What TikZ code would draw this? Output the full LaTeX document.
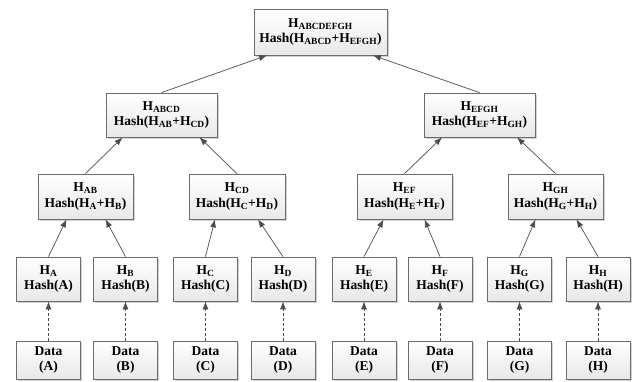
\documentclass[tikz,border=0pt]{standalone}
\usepackage{fontspec}
\setmainfont{Liberation Serif}
\usetikzlibrary{arrows.meta,shadows}
\newcommand{\hsub}[1]{\textsubscript{#1}}
\tikzset{
  hbox/.style={draw=gray!85!black, line width=0.8pt, top color=white, bottom color=gray!18,
    drop shadow={shadow xshift=1.5pt, shadow yshift=-1.5pt, opacity=0.35, fill=gray},
    align=center, inner sep=0pt, font=\fontsize{13.5}{15.5}\selectfont\bfseries},
  arr/.style={draw=gray!60!black, line width=0.7pt, -{Latex[length=8pt,width=6pt]}},
  darr/.style={arr, densely dashed}
}
\begin{document}
\begin{tikzpicture}[x=1pt,y=-1pt]
\useasboundingbox (0,0) rectangle (634,381);
% top
\node[hbox, minimum width=133pt, minimum height=46pt] (R) at (320.5,32) {H\hsub{ABCDEFGH}\\Hash(H\hsub{ABCD}+H\hsub{EFGH})};
% level 2
\node[hbox, minimum width=111pt, minimum height=44pt] (ABCD) at (161.5,115) {H\hsub{ABCD}\\Hash(H\hsub{AB}+H\hsub{CD})};
\node[hbox, minimum width=111pt, minimum height=44pt] (EFGH) at (479.5,115) {H\hsub{EFGH}\\Hash(H\hsub{EF}+H\hsub{GH})};
% level 3
\node[hbox, minimum width=95pt, minimum height=45pt] (AB) at (85.5,196.5) {H\hsub{AB}\\Hash(H\hsub{A}+H\hsub{B})};
\node[hbox, minimum width=96pt, minimum height=45pt] (CD) at (237,196.5) {H\hsub{CD}\\Hash(H\hsub{C}+H\hsub{D})};
\node[hbox, minimum width=95pt, minimum height=45pt] (EF) at (404.5,196.5) {H\hsub{EF}\\Hash(H\hsub{E}+H\hsub{F})};
\node[hbox, minimum width=95pt, minimum height=45pt] (GH) at (555.5,196.5) {H\hsub{GH}\\Hash(H\hsub{G}+H\hsub{H})};
% leaves and data
\foreach \n/\x in {A/48.5,B/125.5,C/205.5,D/283,E/364,F/440,G/519.5,H/598}{
  \node[hbox, minimum width=64pt, minimum height=44pt] (\n) at (\x,279) {H\hsub{\n}\\Hash(\n)};
  \node[hbox, minimum width=64pt, minimum height=38pt] (d\n) at (\x,360) {Data\\(\n)};
  \draw[darr] (d\n.north) -- (\n.south);
}
% arrows
\draw[arr] (A.north) -- ([xshift=-19pt]AB.south);
\draw[arr] (B.north) -- ([xshift=20pt]AB.south);
\draw[arr] (C.north) -- ([xshift=-22pt]CD.south);
\draw[arr] (D.north) -- ([xshift=21pt]CD.south);
\draw[arr] (E.north) -- ([xshift=-21pt]EF.south);
\draw[arr] (F.north) -- ([xshift=20pt]EF.south);
\draw[arr] (G.north) -- ([xshift=-20pt]GH.south);
\draw[arr] (H.north) -- ([xshift=21pt]GH.south);
\draw[arr] (AB.north) -- ([xshift=-39pt]ABCD.south);
\draw[arr] (CD.north) -- ([xshift=38pt]ABCD.south);
\draw[arr] (EF.north) -- ([xshift=-37.5pt]EFGH.south);
\draw[arr] (GH.north) -- ([xshift=37.5pt]EFGH.south);
\draw[arr] (ABCD.north) -- ([xshift=-53.5pt]R.south);
\draw[arr] (EFGH.north) -- ([xshift=52.5pt]R.south);
\end{tikzpicture}
\end{document}
